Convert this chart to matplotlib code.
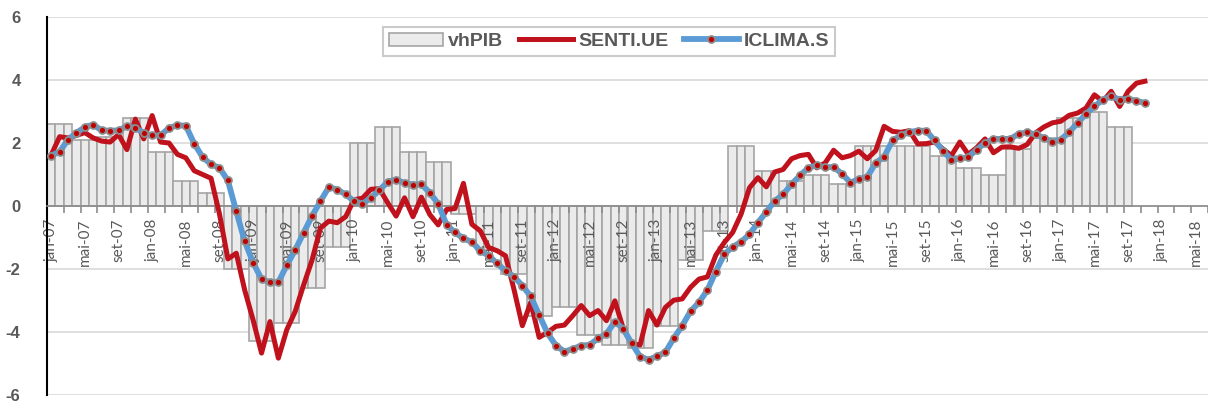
import numpy as np
import matplotlib.pyplot as plt

# quarterly GDP growth (yoy), Q1-07 .. Q3-17
vhpib_q = [2.6, 2.1, 2.2, 2.8,
           1.7, 0.8, 0.4, -2.0,
           -4.3, -3.7, -2.6, -1.3,
           2.0, 2.5, 1.7, 1.4,
           -0.25, -1.4, -2.15, -3.5,
           -3.2, -4.1, -4.4, -4.5,
           -3.8, -1.7, -0.8, 1.9,
           1.1, 0.8, 1.0, 0.7,
           1.9, 1.9, 1.9, 1.6,
           1.2, 1.0, 1.8, 2.15,
           2.8, 3.0, 2.5]

# monthly indicators, jan-07 .. nov-17
senti = [1.62, 2.20, 2.16, 2.24, 2.33, 2.16, 2.06, 2.03, 2.27, 1.79, 2.76, 2.13,
         2.87, 2.03, 2.00, 1.64, 1.53, 1.12, 1.00, 0.88, -0.25, -1.68, -1.50, -2.67,
         -3.62, -4.67, -3.67, -4.83, -3.93, -3.35, -2.51, -1.72, -0.70, -0.48, -0.53, -0.34,
         0.20, 0.25, 0.53, 0.55, 0.10, -0.32, 0.26, -0.34, 0.28, -0.27, -0.60, -0.11,
         -0.08, 0.72, -0.58, -0.79, -1.32, -1.42, -1.58, -2.64, -3.80, -3.06, -4.17, -4.01,
         -3.82, -3.78, -3.48, -3.16, -3.48, -3.32, -3.64, -3.01, -3.90, -4.38, -4.41, -3.32,
         -3.78, -3.22, -2.99, -2.95, -2.58, -2.32, -2.25, -1.56, -1.16, -0.84, -0.26, 0.58,
         0.90, 0.61, 1.08, 1.16, 1.50, 1.60, 1.64, 1.21, 1.37, 1.77, 1.53, 1.60,
         1.74, 1.50, 1.76, 2.53, 2.37, 2.34, 2.39, 1.97, 1.98, 2.03, 1.81, 1.60,
         2.03, 1.64, 1.85, 2.13, 1.69, 1.87, 1.88, 1.83, 1.95, 2.32, 2.51, 2.64,
         2.69, 2.88, 2.95, 3.11, 3.53, 3.32, 3.64, 3.16, 3.64, 3.90, 3.96]

iclima = [1.60, 1.72, 2.11, 2.32, 2.51, 2.58, 2.40, 2.39, 2.40, 2.53, 2.48, 2.32,
          2.24, 2.24, 2.48, 2.56, 2.55, 1.98, 1.55, 1.32, 1.21, 0.81, -0.17, -1.12,
          -1.80, -2.32, -2.42, -2.42, -1.88, -1.40, -0.85, -0.32, 0.15, 0.60, 0.52, 0.37,
          0.15, 0.07, 0.26, 0.50, 0.77, 0.84, 0.73, 0.68, 0.69, 0.42, 0.07, -0.60,
          -0.84, -1.03, -1.14, -1.42, -1.58, -1.82, -2.06, -2.24, -2.53, -2.87, -3.46, -4.04,
          -4.43, -4.62, -4.54, -4.43, -4.41, -4.20, -4.06, -3.67, -3.90, -4.36, -4.78, -4.88,
          -4.77, -4.64, -4.20, -3.80, -3.34, -3.06, -2.67, -2.08, -1.53, -1.30, -1.14, -0.90,
          -0.53, -0.19, 0.16, 0.37, 0.69, 0.97, 1.21, 1.29, 1.23, 1.24, 1.02, 0.74,
          0.86, 0.92, 1.37, 1.56, 2.08, 2.24, 2.35, 2.39, 2.39, 2.08, 1.76, 1.46,
          1.51, 1.55, 1.79, 2.00, 2.13, 2.13, 2.13, 2.29, 2.34, 2.27, 2.16, 2.04,
          2.11, 2.34, 2.64, 2.92, 3.16, 3.38, 3.48, 3.38, 3.40, 3.34, 3.27]

meses = ['jan', 'fev', 'mar', 'abr', 'mai', 'jun', 'jul', 'ago', 'set', 'out', 'nov', 'dez']
n_months = 138  # jan-07 .. jun-18
labels = ['%s-%02d' % (meses[k % 12], 7 + k // 12) for k in range(n_months)]

vhpib = np.repeat(vhpib_q, 3)
x_bar = np.arange(len(vhpib))
x_line = np.arange(len(senti))

plt.rcParams['font.family'] = ['Lato', 'DejaVu Sans']
grey_txt = '#595959'
bold_font = 'Liberation Sans'

fig = plt.figure(figsize=(12.08, 4.03), dpi=100)
ax = fig.add_axes([47 / 1208, 8 / 403, 1161 / 1208, 378 / 403])

bars = ax.bar(x_bar, vhpib, width=1.0, color='#ebebeb', edgecolor='#a5a5a5',
              linewidth=1.2, label='vhPIB', zorder=1)
l_senti, = ax.plot(x_line, senti, color='#c0121c', lw=3.6, label='SENTI.UE', zorder=3,
                   solid_joinstyle='round')
l_iclima, = ax.plot(x_line, iclima, color='#5b9bd5', lw=4.2, marker='o', ms=5,
                    mfc='#c00000', mec='#8c8c8c', mew=1.3, label='ICLIMA.S', zorder=4)

ax.set_xlim(-0.5, n_months - 0.5)
ax.set_ylim(-6, 6)
ax.set_yticks(range(-6, 7, 2))
ax.set_yticklabels([str(v) for v in range(-6, 7, 2)], fontfamily=bold_font,
                   fontweight='bold', fontsize=12, color=grey_txt)
ax.grid(axis='y', color='#d9d9d9', lw=1.2)
ax.yaxis.set_zorder(0.5)
ax.xaxis.set_zorder(2)
ax.tick_params(axis='y', length=0, pad=19)

# category axis sits on zero
ax.spines['bottom'].set_position(('data', 0))
ax.spines['bottom'].set_color('#8c8c8c')
ax.spines['bottom'].set_linewidth(1.2)
ax.spines['bottom'].set_zorder(2.5)
ax.spines['left'].set_color('black')
ax.spines['left'].set_linewidth(1.5)
ax.spines['top'].set_visible(False)
ax.spines['right'].set_visible(False)

pos = np.arange(0, n_months, 4)
ax.set_xticks(pos)
ax.set_xticklabels([labels[k] for k in pos], rotation=90, ha='center', va='top')
ax.set_xticks(np.arange(-0.5, n_months, 2), minor=True)
ax.tick_params(axis='x', which='major', length=0, pad=9, labelsize=11, labelcolor=grey_txt)
ax.tick_params(axis='x', which='minor', length=5, width=1.2, color='#8c8c8c', direction='out')

leg = ax.legend([bars, l_senti, l_iclima], ['vhPIB', 'SENTI.UE', 'ICLIMA.S'],
                loc='upper center', bbox_to_anchor=(0.484, 1.0), ncol=3, frameon=True,
                fancybox=False, edgecolor='#bfbfbf', handlelength=2.8,
                handletextpad=0.25, columnspacing=0.8, borderpad=0.3,
                prop={'family': bold_font, 'weight': 'bold', 'size': 14})
leg.get_frame().set_linewidth(1.5)
leg.set_zorder(5)
for t in leg.get_texts():
    t.set_color(grey_txt)

fig.savefig('out.png', dpi=100)
